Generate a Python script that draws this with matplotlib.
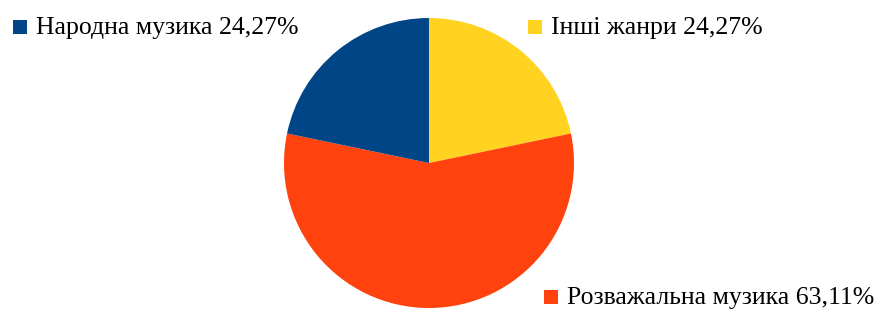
import matplotlib
matplotlib.use("Agg")
import matplotlib.pyplot as plt
from matplotlib.patches import Rectangle

labels = ["Інші жанри", "Розважальна музика", "Народна музика"]
values = [24.27, 63.11, 24.27]
colors = ["#ffd320", "#ff420e", "#004586"]

plt.rcParams["font.family"] = ["Liberation Serif", "DejaVu Serif"]

W, H = 882, 309
fig = plt.figure(figsize=(W / 100, H / 100), dpi=100)

# pie centre (429, 163), radius 145 px
cx, cy, r = 429, 163, 145
ax = fig.add_axes([(cx - r) / W, (H - cy - r) / H, 2 * r / W, 2 * r / H])
ax.pie(values, colors=colors, startangle=90, counterclock=False,
       wedgeprops=dict(linewidth=0))
ax.set_xlim(-1, 1)
ax.set_ylim(-1, 1)
ax.set_aspect("equal")
ax.axis("off")

# legend-like labels: (square x, baseline y, text)
items = [
    (13, 34, "Народна музика 24,27%", colors[2]),
    (528, 34, "Інші жанри 24,27%", colors[0]),
    (544, 304, "Розважальна музика 63,11%", colors[1]),
]
sq = 14
for x, base, txt, c in items:
    fig.patches.append(Rectangle((x / W, (H - base) / H), sq / W, sq / H,
                                 transform=fig.transFigure, color=c,
                                 linewidth=0))
    fig.text((x + sq + 9) / W, (H - base) / H, txt, fontsize=18.5,
             va="baseline", ha="left", color="black")

fig.savefig("out.png", dpi=100)
